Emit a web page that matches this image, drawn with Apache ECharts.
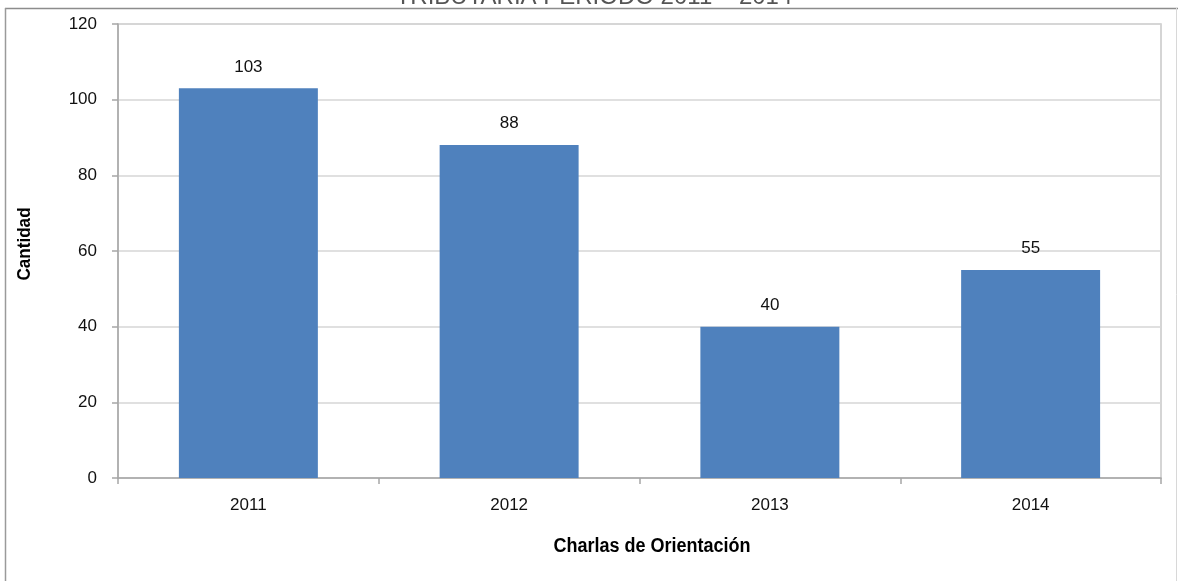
<!DOCTYPE html>
<html>
<head>
<meta charset="utf-8">
<style>
  html, body { margin: 0; padding: 0; background: #ffffff; }
  #chart { width: 1178px; height: 581px; }
</style>
<script src="https://cdn.jsdelivr.net/npm/echarts@6/dist/echarts.min.js"></script>
</head>
<body>
<div id="chart"></div>
<script>
// Charlas de orientación tributaria por año
const years = ['2011', '2012', '2013', '2014'];
const cantidad = [103, 88, 40, 55];
const yTicks = { min: 0, max: 120, interval: 20 };

const titleText = 'TRIBUTARIA PERIODO 2011 – 2014';
const xAxisName = 'Charlas de Orientación';
const yAxisName = 'Cantidad';

const chart = echarts.init(document.getElementById('chart'), null, { renderer: 'canvas' });

const gridLine = '#d6d6d6';
const axisGray = '#a6a6a6';
const sans = '"Liberation Sans", Arial, sans-serif';

chart.setOption({
  backgroundColor: '#ffffff',
  animation: false,
  graphic: [
    // heading line, partly above the frame
    {
      type: 'text', x: 594, y: 9, z: 5,
      style: {
        text: titleText, fontFamily: sans, fontSize: 24, fill: '#555555',
        align: 'center', verticalAlign: 'bottom'
      }
    },
    // outer frame of the chart area
    { type: 'rect', shape: { x: 0, y: 8, width: 1178, height: 4 }, style: { fill: '#ffffff' }, z: 6, silent: true },
    { type: 'line', shape: { x1: 5, y1: 8.5, x2: 1178, y2: 8.5 }, style: { stroke: '#8c8c8c', lineWidth: 1.5 }, z: 10 },
    { type: 'line', shape: { x1: 5.5, y1: 8, x2: 5.5, y2: 581 }, style: { stroke: '#9a9a9a', lineWidth: 1.5 }, z: 10 },
    { type: 'line', shape: { x1: 1176.5, y1: 8, x2: 1176.5, y2: 581 }, style: { stroke: '#d8d8d8', lineWidth: 1 }, z: 10 },
    // axis titles in a condensed bold face
    {
      type: 'text', x: 652, y: 546, scaleX: 0.9, z: 5,
      style: {
        text: xAxisName, fontFamily: sans, fontWeight: 'bold', fontSize: 20, fill: '#000000',
        align: 'center', verticalAlign: 'middle'
      }
    },
    {
      type: 'text', x: 25, y: 244, rotation: Math.PI / 2, scaleX: 0.9, z: 5,
      style: {
        text: yAxisName, fontFamily: sans, fontWeight: 'bold', fontSize: 19, fill: '#000000',
        align: 'center', verticalAlign: 'middle'
      }
    }
  ],
  grid: {
    left: 118,
    right: 17,
    top: 24,
    bottom: 103,
    show: true,
    borderColor: '#c8c8c8',
    borderWidth: 1.5,
    containLabel: false
  },
  xAxis: {
    type: 'category',
    data: years,
    axisLine: { lineStyle: { color: axisGray, width: 1.5 } },
    axisTick: { show: true, alignWithLabel: false, length: 6, lineStyle: { color: axisGray, width: 1.5 } },
    axisLabel: {
      margin: 19,
      fontFamily: sans,
      fontSize: 17,
      color: '#111111'
    },
    splitLine: { show: false }
  },
  yAxis: {
    type: 'value',
    min: yTicks.min,
    max: yTicks.max,
    interval: yTicks.interval,
    axisLine: { show: true, lineStyle: { color: axisGray, width: 1.5 } },
    axisTick: { show: true, length: 6, lineStyle: { color: axisGray, width: 1.5 } },
    axisLabel: {
      margin: 21,
      fontFamily: sans,
      fontSize: 17,
      color: '#111111'
    },
    splitLine: { show: true, lineStyle: { color: gridLine, width: 1.5 } }
  },
  series: [{
    type: 'bar',
    data: cantidad,
    barWidth: '53.3%',
    itemStyle: { color: '#4f81bd' },
    label: {
      show: true,
      position: 'top',
      distance: 13,
      fontFamily: sans,
      fontSize: 17,
      color: '#111111'
    }
  }]
});
</script>
</body>
</html>
